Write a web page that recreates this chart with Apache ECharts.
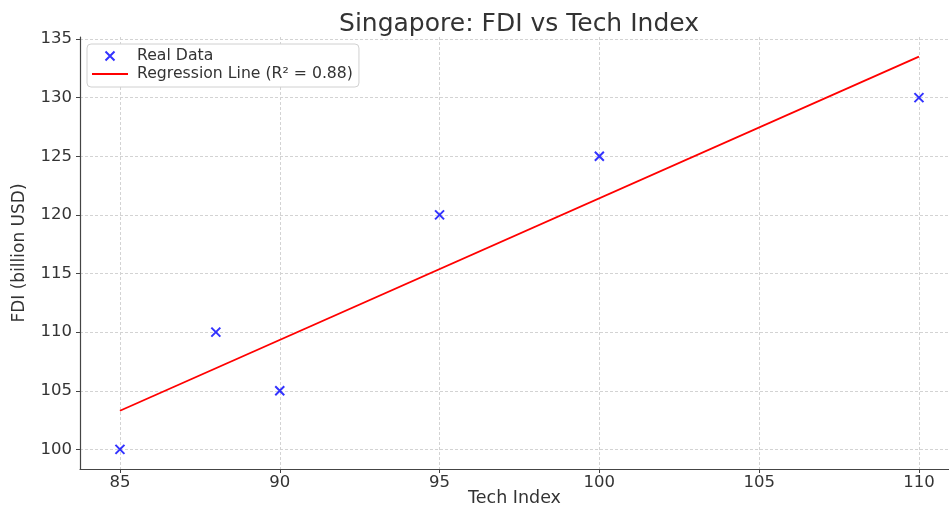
<!DOCTYPE html>
<html>
<head>
    <meta charset="utf-8">
    <title>Singapore: FDI vs Tech Index</title>
    <script src="https://cdn.jsdelivr.net/npm/echarts@6/dist/echarts.min.js"></script>
</head>
<style>
    html, body { margin: 0; background: #fff; }
    #main { width: 949px; height: 508px; }
</style>
<body>
    <div id="main"></div>
    <script type="text/javascript">
        // data
        var techIndex = [85, 88, 90, 95, 100, 110];
        var fdi = [100, 110, 105, 120, 125, 130];
        var lineX = [85, 110];
        var lineY = [103.3, 133.5];
        var xTicks = [85, 90, 95, 100, 105, 110];
        var yTicks = [100, 105, 110, 115, 120, 125, 130, 135];

        var font = 'DejaVu Sans';
        var crossPath = 'path://M0,0L10,10M10,0L0,10';
        var linePath = 'path://M0,0L34,0L34,2L0,2Z';

        var points = [];
        for (var i = 0; i < techIndex.length; i++) {
            points.push([techIndex[i], fdi[i]]);
        }
        var linePts = [];
        for (var j = 0; j < lineX.length; j++) {
            linePts.push([lineX[j], lineY[j]]);
        }

        var option = {
            animation: false,
            textStyle: { fontFamily: font },
            title: {
                text: 'Singapore: FDI vs Tech Index',
                left: 514, top: 7, textAlign: 'center',
                textStyle: { fontFamily: font, fontSize: 25, fontWeight: 'normal', color: '#333' }
            },
            legend: {
                orient: 'vertical',
                left: 87, top: 44,
                padding: [4, 6, 5, 5],
                itemGap: 2,
                itemWidth: 36, itemHeight: 9,
                borderColor: '#d0d0d0', borderWidth: 1, borderRadius: 4,
                backgroundColor: '#fff',
                textStyle: { fontFamily: font, fontSize: 15.7, color: '#333', padding: [0, 0, 0, 4] },
                data: [
                    { name: 'Real Data', icon: crossPath, itemStyle: { color: 'none', borderColor: '#0000ff', borderWidth: 2 } },
                    { name: 'Regression Line (R² = 0.88)', icon: linePath, itemStyle: { color: '#ff0000', borderWidth: 0 } }
                ]
            },
            grid: { left: 80, right: 0, top: 37, bottom: 39, outerBoundsMode: 'none', containLabel: false },
            xAxis: {
                type: 'value',
                min: 83.75, max: 110.94,
                name: 'Tech Index', nameLocation: 'middle', nameGap: 20, nameMoveOverlap: false,
                nameTextStyle: { fontFamily: font, fontSize: 17.5, color: '#333' },
                axisLine: { lineStyle: { color: '#444', width: 1.2 } },
                axisTick: { show: true, customValues: xTicks, length: 4, lineStyle: { color: '#444' } },
                axisLabel: { customValues: xTicks, fontFamily: font, fontSize: 16.5, color: '#333', margin: 5 },
                splitLine: { show: true, lineStyle: { color: '#d3d3d3', type: [3, 2] } }
            },
            yAxis: {
                type: 'value',
                min: 98.33, max: 135.17,
                name: 'FDI (billion USD)', nameLocation: 'middle', nameGap: 52, nameRotate: 90, nameMoveOverlap: false,
                nameTextStyle: { fontFamily: font, fontSize: 17, color: '#333' },
                axisLine: { show: true, lineStyle: { color: '#444', width: 1.2 } },
                axisTick: { show: true, customValues: yTicks, length: 4, lineStyle: { color: '#444' } },
                axisLabel: { customValues: yTicks, fontFamily: font, fontSize: 16.5, color: '#333', margin: 8 },
                splitLine: { show: true, lineStyle: { color: '#d3d3d3', type: [3, 2] } }
            },
            series: [
                {
                    name: 'Real Data',
                    type: 'scatter',
                    symbol: crossPath,
                    symbolSize: 9,
                    itemStyle: { color: 'none', borderColor: '#0000ff', borderWidth: 2 },
                    data: points,
                    z: 3
                },
                {
                    name: 'Regression Line (R² = 0.88)',
                    type: 'line',
                    symbol: 'none',
                    lineStyle: { color: '#ff0000', width: 1.8 },
                    itemStyle: { color: '#ff0000' },
                    data: linePts,
                    z: 2
                }
            ]
        };

        var myChart = echarts.init(document.getElementById('main'));
        myChart.setOption(option);
    </script>
</body>
</html>
